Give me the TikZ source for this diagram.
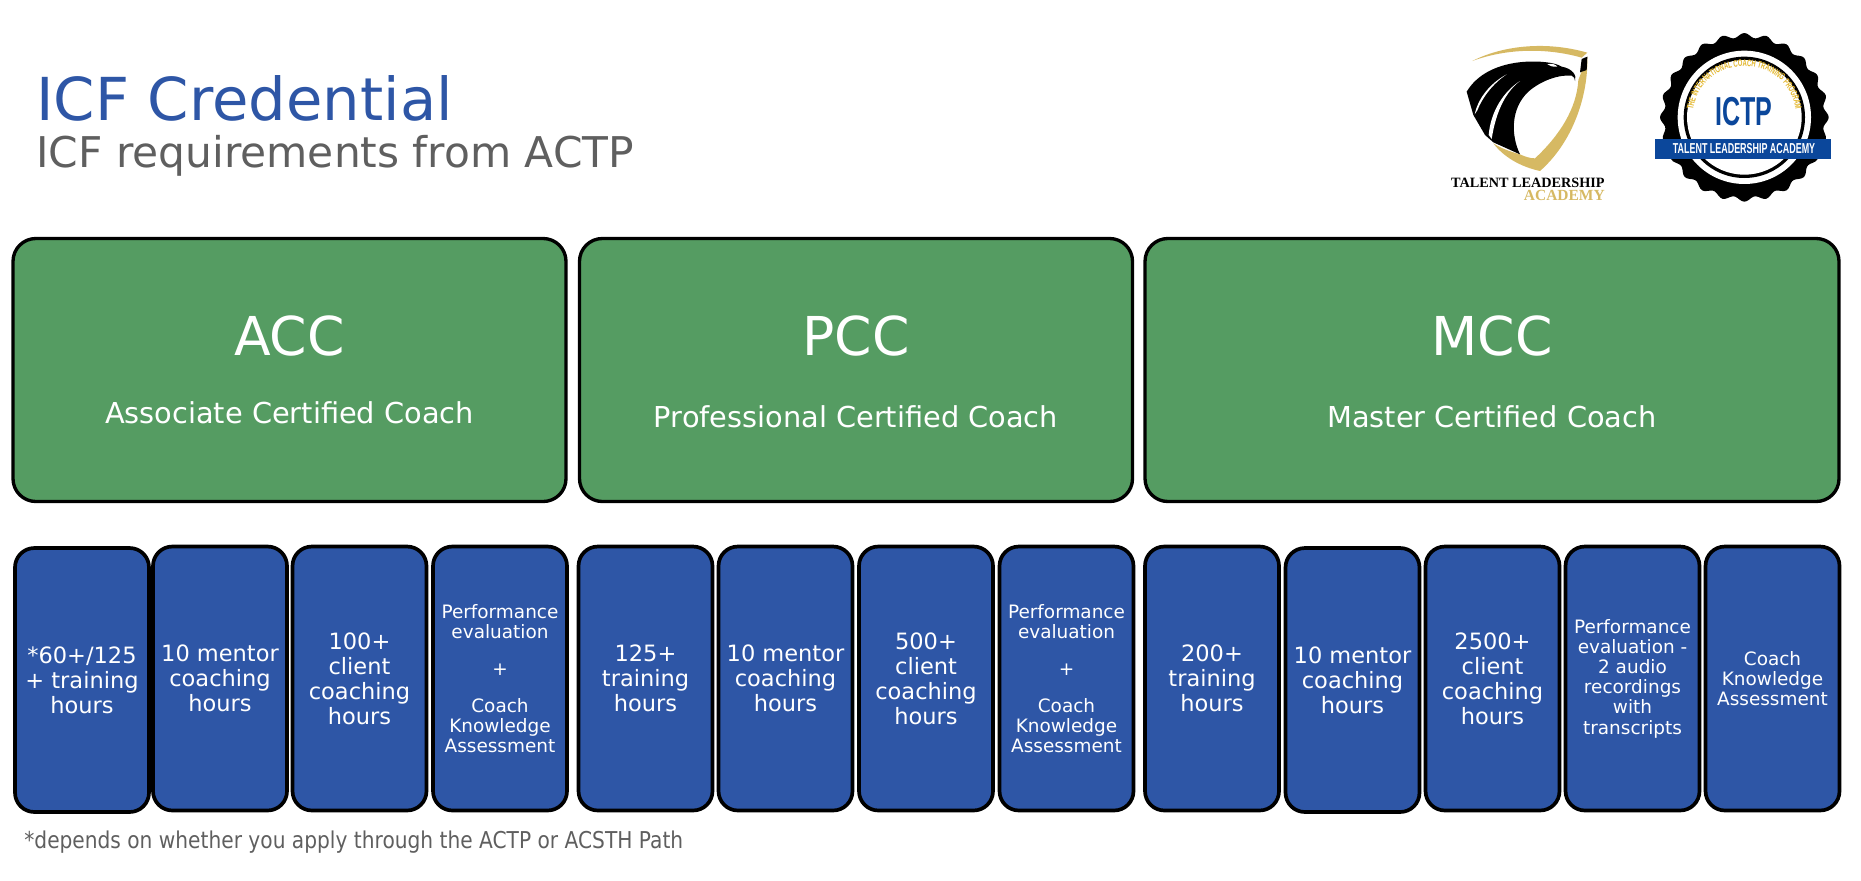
\documentclass[tikz,border=0pt]{standalone}
\usepackage{fontspec}
\setmainfont{DejaVu Sans}
\newfontfamily\notefont[FakeStretch=0.87]{DejaVu Sans}
\newfontfamily\logofont[FakeStretch=0.62]{Liberation Sans}
\newfontfamily\shieldfont{Liberation Serif}
\usetikzlibrary{decorations.text}
\definecolor{boxgreen}{HTML}{559C62}
\definecolor{boxblue}{HTML}{2E56A6}
\definecolor{textgrey}{HTML}{5F5F5F}
\definecolor{shieldgold}{HTML}{D6B963}
\definecolor{badgeblue}{HTML}{0B479B}
\definecolor{badgegold}{HTML}{E3B62B}
\newcommand{\fsize}[2]{\fontsize{#1}{#2}\selectfont}
\tikzset{
    levelbox/.style={draw=black, line width=1.9pt, fill=boxgreen, rounded corners=13pt, minimum width=553*0.02cm, minimum height=263*0.02cm, inner sep=0pt},
    reqbox/.style={draw=black, line width=2.1pt, fill=boxblue, rounded corners=11pt, minimum width=2.68cm, minimum height=5.28cm, inner sep=0pt, text=white, align=center, font=\fsize{12.8}{14.2}},
    smallreq/.style={reqbox, font=\fsize{10.5}{11.5}},
    leveltitle/.style={text=white, font=\fsize{30.5}{34}, inner sep=0pt},
    levelname/.style={text=white, font=\fsize{16.4}{18}, inner sep=0pt},
    logotext/.style={inner sep=0pt, anchor=base east},
}
\begin{document}
\begin{tikzpicture}[x=0.02cm, y=-0.02cm]
    \useasboundingbox (0, 0) rectangle (1861, 880);
    \node[anchor=base west, inner sep=0pt, text=boxblue, font=\fsize{33.7}{36}] (title) at (36, 120) {ICF Credential};
    \node[anchor=base west, inner sep=0pt, text=textgrey, font=\fsize{24.1}{26}] (subtitle) at (36, 167) {ICF requirements from ACTP};
    \node[anchor=base west, inner sep=0pt, text=textgrey, font=\notefont\fsize{13.2}{15}] (footnote) at (24, 848) {*depends on whether you apply through the ACTP or ACSTH Path};

    \node[levelbox] (acc) at (289.5, 370) {};
    \node[levelbox] (pcc) at (856, 370) {};
    \node[levelbox, minimum width=694*0.02cm] (mcc) at (1492, 370) {};
    \node[leveltitle] (acctitle) at (289.5, 336) {ACC};
    \node[leveltitle] (pcctitle) at (856, 336) {PCC};
    \node[leveltitle] (mcctitle) at (1492, 336) {MCC};
    \node[levelname] (accname) at (289.5, 413) {Associate Certified Coach};
    \node[levelname] (pccname) at (856, 417) {Professional Certified Coach};
    \node[levelname] (mccname) at (1492, 417) {Master Certified Coach};

    \node[reqbox] (acctraining) at (82, 680) {*60+/125\\+ training\\hours};
    \node[reqbox] (accmentor) at (220, 678.5) {10 mentor\\coaching\\hours};
    \node[reqbox] (accclient) at (359.5, 678.5) {100+\\client\\coaching\\hours};
    \node[smallreq] (accexam) at (500, 678.5) {Performance\\evaluation\\[9.5pt]+\\[9.5pt]Coach\\Knowledge\\Assessment};
    \node[reqbox] (pcctraining) at (645.5, 678.5) {125+\\training\\hours};
    \node[reqbox] (pccmentor) at (785.5, 678.5) {10 mentor\\coaching\\hours};
    \node[reqbox] (pccclient) at (926, 678.5) {500+\\client\\coaching\\hours};
    \node[smallreq] (pccexam) at (1066.5, 678.5) {Performance\\evaluation\\[9.5pt]+\\[9.5pt]Coach\\Knowledge\\Assessment};
    \node[reqbox] (mcctraining) at (1212, 678.5) {200+\\training\\hours};
    \node[reqbox] (mccmentor) at (1352.5, 680) {10 mentor\\coaching\\hours};
    \node[reqbox] (mccclient) at (1492.5, 678.5) {2500+\\client\\coaching\\hours};
    \node[smallreq] (mccperf) at (1632.5, 678.5) {Performance\\evaluation -\\2 audio\\recordings\\with\\transcripts};
    \node[smallreq] (mccexam) at (1772.5, 678.5) {Coach\\Knowledge\\Assessment};

    \begin{scope}[shift={(1440, 35)}, x=0.02cm/3, y=-0.02cm/3]
        \fill[shieldgold] (97, 78) .. controls (180, 35) and (310, 15) .. (442, 53) -- (425, 68) .. controls (320, 38) and (200, 40) .. (97, 78) -- cycle;
        \fill[shieldgold] (442, 65) .. controls (445, 180) and (400, 320) .. (300, 408) .. controls (240, 395) and (190, 365) .. (160, 325) .. controls (190, 345) and (230, 355) .. (240, 358) .. controls (255, 365) and (270, 370) .. (285, 370) .. controls (360, 300) and (410, 220) .. (415, 135) -- cycle;
        \fill[black] (425, 72) -- (442, 65) -- (440, 105) -- (420, 112) -- cycle;
        \fill[black] (405, 138) .. controls (412, 120) and (395, 100) .. (365, 95) .. controls (345, 82) and (300, 78) .. (260, 80) .. controls (170, 85) and (110, 120) .. (80, 170) -- (100, 240) -- (135, 300) -- (160, 322) -- (240, 358) .. controls (212, 300) and (212, 220) .. (265, 170) .. controls (305, 135) and (360, 118) .. (395, 122) .. controls (402, 125) and (405, 130) .. (405, 138) -- cycle;
        \fill[white] (104, 238) .. controls (114, 190) and (150, 145) .. (200, 118) .. controls (160, 145) and (128, 185) .. (112, 226) -- cycle;
        \fill[white] (146, 300) .. controls (152, 230) and (190, 170) .. (240, 138) .. controls (200, 168) and (168, 225) .. (155, 312) -- cycle;
        \fill[white] (322, 88) .. controls (335, 84) and (347, 88) .. (352, 95) .. controls (340, 96) and (330, 94) .. (322, 88) -- cycle;
    \end{scope}
    \node[logotext, font=\shieldfont\bfseries\fsize{8.1}{10}, text=black] (shieldname) at (1605, 187) {TALENT LEADERSHIP};
    \node[logotext, font=\shieldfont\bfseries\fsize{8.8}{10}, text=shieldgold] (shieldacademy) at (1605, 200) {ACADEMY};

    \begin{scope}[shift={(1650, 25)}, x=0.02cm/3, y=-0.02cm/3]
        \fill[black, smooth] plot[domain=0:360, samples=217] ({283 + (246 + 7*cos(24*\x))*cos(\x)}, {277 + (246 + 7*cos(24*\x))*sin(\x)}) -- cycle;
        \fill[white] (283, 277) circle[radius=200];
        \fill[black] (283, 277) circle[radius=182];
        \fill[white] (283, 277) circle[radius=172];
        \path[decorate, decoration={text along path, text align=center, text={|\logofont\bfseries\fsize{5.4}{6}\color{badgegold}|THE INTERNATIONAL COACH TRAINING PROGRAM}}] (128, 280) .. controls (128, 72) and (438, 72) .. (438, 280);
        \fill[badgeblue] (15, 342) rectangle (543, 402);
    \end{scope}
    \node[inner sep=0pt, text=badgeblue, font=\logofont\bfseries\fsize{23}{26}] (badgetitle) at (1744, 112) {ICTP};
    \node[inner sep=0pt, text=white, font=\logofont\bfseries\fsize{8.2}{10}] (badgename) at (1744, 149) {TALENT LEADERSHIP ACADEMY};
\end{tikzpicture}
\end{document}
